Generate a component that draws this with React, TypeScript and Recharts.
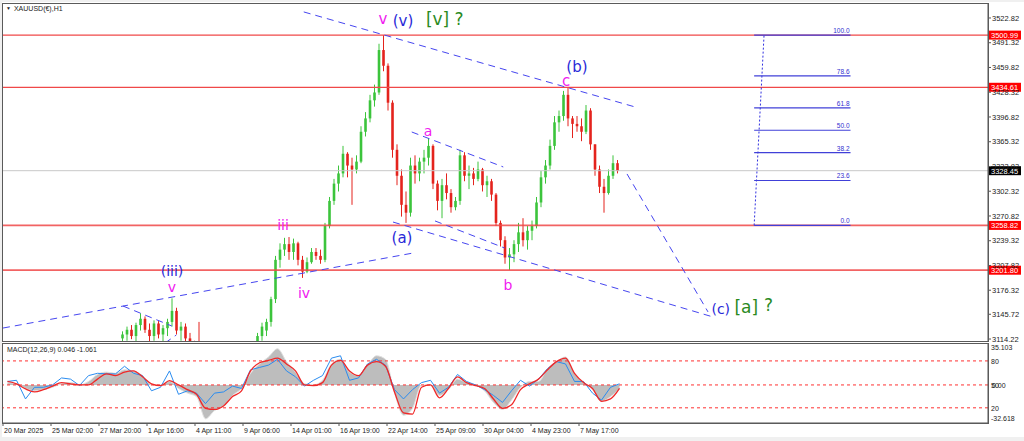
import React from 'react';
import { ComposedChart, Bar, Line, Area, XAxis, YAxis, ReferenceLine, ReferenceDot } from 'recharts';

const FONT = '"Liberation Sans", Arial, sans-serif';
const WAVE_FONT = '"DejaVu Sans", Verdana, sans-serif';
const UP = '#3cc43c';
const DOWN = '#e4231d';
const TREND = '#4646f0';

// x axis is in H1 bar index, y axis in price
const X_MAX = 1313.3;
const Y_MIN = 3111.7;
const Y_MAX = 3540.6;
const GROUP = 6; // H1 bars per drawn candle

const priceTicks = [3522.82, 3491.32, 3459.82, 3428.32, 3396.82, 3365.32, 3333.82, 3302.32, 3270.82, 3239.32, 3207.82, 3176.32, 3145.72, 3114.22];
const timeTicks = [0, 64, 128, 192, 256, 320, 384, 448, 512, 576, 640, 704, 768];
const timeLabels = ['20 Mar 2025', '25 Mar 02:00', '27 Mar 20:00', '1 Apr 16:00', '4 Apr 11:00', '9 Apr 06:00', '14 Apr 01:00', '16 Apr 19:00', '22 Apr 14:00', '25 Apr 09:00', '30 Apr 04:00', '4 May 23:00', '7 May 17:00'];

// [open, high, low, close]
const marchStart = 26;
const marchOhlc = [
  [3115, 3124, 3105, 3120], [3120, 3130, 3112, 3126], [3126, 3132, 3114, 3118], [3118, 3135, 3110, 3132],
  [3132, 3147, 3125, 3140], [3140, 3143, 3122, 3126], [3126, 3134, 3110, 3118], [3118, 3138, 3112, 3134],
  [3134, 3137, 3115, 3120], [3120, 3132, 3108, 3128], [3128, 3140, 3118, 3136], [3136, 3166, 3130, 3150],
  [3150, 3154, 3120, 3125], [3125, 3136, 3112, 3130], [3130, 3134, 3110, 3115], [3115, 3122, 3100, 3108],
  [3108, 3112, 3095, 3100], [3100, 3136, 3090, 3096],
];
const aprilStart = 56;
const aprilOhlc = [
  [3108, 3122, 3100, 3118], [3118, 3135, 3112, 3130], [3125, 3140, 3118, 3136], [3136, 3168, 3130, 3165],
  [3165, 3220, 3160, 3215], [3215, 3236, 3205, 3228], [3228, 3243, 3220, 3235], [3235, 3244, 3215, 3225],
  [3225, 3242, 3215, 3236], [3236, 3238, 3208, 3215], [3215, 3220, 3192, 3200], [3200, 3218, 3198, 3212],
  [3212, 3230, 3210, 3225], [3225, 3230, 3215, 3220], [3220, 3228, 3210, 3215], [3215, 3262, 3212, 3258],
  [3258, 3295, 3255, 3290], [3290, 3318, 3285, 3312], [3312, 3335, 3302, 3325], [3325, 3360, 3320, 3350],
  [3350, 3352, 3320, 3335], [3335, 3345, 3285, 3330], [3330, 3348, 3325, 3340], [3340, 3385, 3338, 3378],
  [3378, 3403, 3372, 3395], [3395, 3425, 3390, 3418], [3418, 3438, 3410, 3428], [3428, 3490, 3425, 3482],
  [3482, 3501, 3455, 3462], [3462, 3465, 3405, 3415], [3415, 3418, 3345, 3355], [3355, 3362, 3310, 3322],
  [3322, 3330, 3270, 3285], [3285, 3302, 3262, 3275], [3275, 3345, 3270, 3335], [3335, 3348, 3312, 3325],
  [3325, 3345, 3315, 3340], [3340, 3355, 3325, 3345], [3345, 3370, 3335, 3360], [3360, 3362, 3305, 3312],
  [3312, 3316, 3278, 3290], [3290, 3318, 3268, 3310], [3310, 3325, 3292, 3300], [3300, 3305, 3275, 3282],
  [3282, 3295, 3278, 3290], [3290, 3355, 3285, 3348], [3348, 3352, 3315, 3322], [3322, 3335, 3305, 3325],
  [3325, 3332, 3310, 3318], [3318, 3340, 3315, 3330], [3330, 3332, 3302, 3310], [3310, 3322, 3295, 3315],
  [3315, 3318, 3290, 3298], [3298, 3300, 3258, 3262], [3262, 3265, 3232, 3240], [3240, 3245, 3210, 3218],
  [3218, 3230, 3202, 3222], [3222, 3240, 3212, 3235], [3235, 3262, 3225, 3250], [3250, 3268, 3232, 3240],
  [3240, 3258, 3228, 3252], [3252, 3265, 3240, 3258], [3258, 3295, 3255, 3288], [3288, 3328, 3282, 3320],
  [3320, 3342, 3312, 3335], [3335, 3368, 3330, 3360], [3360, 3398, 3355, 3390], [3390, 3405, 3378, 3398],
  [3398, 3430, 3392, 3425], [3425, 3435, 3385, 3395], [3395, 3398, 3370, 3388], [3388, 3398, 3378, 3385],
  [3385, 3395, 3366, 3378], [3378, 3412, 3375, 3405], [3405, 3408, 3355, 3362], [3362, 3362, 3322, 3330],
  [3330, 3335, 3300, 3308], [3308, 3318, 3275, 3300], [3300, 3330, 3298, 3322], [3322, 3348, 3318, 3338],
  [3338, 3342, 3325, 3328],
];

// MACD panel, one point per 12 H1 bars
const macdStep = 12;
const macdMain = [3, 4, -12, -2, -2, 0, 6, 5, -0.5, 8, 10, 9.5, 9.5, 16, 10, 8, -5, -2, 12, -8, -5, -7, -16, -7, -6, -1, -3, 13, 15, 17, 22, 12, 7, -1, 4, 8, 23, 25, 4, 6, 18, 22, 17, -4, -12, -4, 2, 4, -7, -2, 9, 3, 0, -4, -9, -15, -5, 4, -1, 5, 14, 20, 18, 3, 3, -7, -13, -2, 1];
const macdSignal = [3, 1, -3.4, -6, -4, -1, 2, 1, 0, 0, 5, 9.5, 8, 11, 12, 7, 1, -0.6, 3.7, 0, -4, -8, -20, -21, -18, -10, -5, 12, 19, 21, 23, 18, 12, 0, -0.6, 2, 17, 21, 12, 8, 17, 20, 16, -6, -24, -25, -2, 0, -11, -3, 7, 2, -0.6, -3, -12, -20, -17, -4, 1, 5, 13, 20, 23, 10, 2, -3, -14, -12, -3];
const macdHist = [2, 1, -3, -5, -4, -2, 1, 2, 0, 3, 9, 11, 10, 13, 12, 8, 0, 0, 3, -3, -7, -10, -29, -22, -18, -9, -3, 10, 18, 24, 31, 20, 11, 1, 0, 4, 18, 22, 11, 8, 17, 25, 22, -7, -26, -20, 0, 0, -9, -4, 5, 2, 0, -5, -15, -21, -13, -2, 3, 3, 14, 20, 24, 10, 2, -4, -14, -10, -3];
const MACD_MIN = -32.618;
const MACD_MAX = 35.103;
const macdLevels = [{ v: 20.6, t: '80' }, { v: 0, t: '50' }, { v: -19.6, t: '20' }];

const redLevels = [3500.99, 3434.61, 3258.82, 3201.8];
const lastPrice = 3328.45;

// dashed trend lines: [bar1, price1, bar2, price2]
const trendLines = [
  [401, 3530.5, 843, 3409.5],
  [0, 3128.2, 547, 3223.7],
  [160, 3156.2, 225, 3130.8],
  [216, 3109.1, 231, 3119.3],
  [545, 3377.7, 667, 3333.2],
  [520, 3263.1, 947, 3142.2],
  [576, 3264.5, 669, 3230.0],
  [832, 3324.3, 940, 3148.7],
];

const fibLow = 3258.82;
const fibHigh = 3500.99;
const fibLevels = [0, 23.6, 38.2, 50, 61.8, 78.6, 100];
const fibFromBar = 1001.5;
const fibToBar = 1130;
const fibTopBar = 1014.7;

// wave labels: [bar, price, text, color, size]
const MAG = '#f020f0';
const BLU = '#2a2ad8';
const GRN = '#2a8a1e';
const waveLabels: [number, number, string, string, number][] = [
  [506.7, 3522, 'v', MAG, 15],
  [533.3, 3519, '(v)', BLU, 15],
  [589, 3521, '[v] ?', GRN, 17],
  [765.3, 3460.4, '(b)', BLU, 15],
  [750.7, 3442.6, 'c', MAG, 15],
  [566.7, 3379, 'a', MAG, 14],
  [532, 3242.8, '(a)', BLU, 15],
  [673.3, 3182.9, 'b', MAG, 14],
  [373.3, 3259.3, 'iii', MAG, 14],
  [401.3, 3172.8, 'iv', MAG, 14],
  [225.3, 3200.8, '(iii)', BLU, 14],
  [225.3, 3180.4, 'v', MAG, 14],
  [957, 3152.4, '(c)', BLU, 14],
  [991, 3154.9, '[a]', GRN, 17],
  [1020.5, 3157.5, '?', GRN, 17],
];

const candles = [
  ...marchOhlc.map((v, k) => ({ b: (marchStart + k) * GROUP + GROUP / 2, o: v[0], h: v[1], l: v[2], c: v[3], range: [v[2], v[1]] })),
  ...aprilOhlc.map((v, k) => ({ b: (aprilStart + k) * GROUP + GROUP / 2, o: v[0], h: v[1], l: v[2], c: v[3], range: [v[2], v[1]] })),
];

const macdData = macdMain.map((v, j) => ({ b: j * macdStep + macdStep / 2, main: v, signal: macdSignal[j], hist: macdHist[j] }));

function Candle(props: any) {
  const { x, y, width, height, payload } = props;
  if (x == null || y == null || !payload) return null;
  const { o, h, l, c } = payload;
  const top = Math.min(y, y + height);
  const span = Math.abs(height);
  const k = h > l ? span / (h - l) : 0;
  const yO = top + (h - o) * k;
  const yC = top + (h - c) * k;
  const cx = x + width / 2;
  const color = c >= o ? UP : DOWN;
  return (
    <g>
      <line x1={cx} x2={cx} y1={top} y2={top + span} stroke={color} strokeWidth={1} />
      <rect x={cx - 1.3} y={Math.min(yO, yC)} width={2.6} height={Math.max(1, Math.abs(yC - yO))} fill={color} />
    </g>
  );
}

function PriceTag(props: any) {
  const { viewBox, text, bg } = props;
  if (!viewBox) return null;
  const x = viewBox.x + viewBox.width + 1;
  const y = viewBox.y;
  return (
    <g>
      <rect x={x} y={y - 4.5} width={32} height={9} fill={bg} />
      <text x={x + 2} y={y + 3} fill="#fff" fontSize={7.5} fontFamily={FONT}>{text}</text>
    </g>
  );
}

function WaveText(props: any) {
  const { viewBox, text, color, size } = props;
  if (!viewBox) return null;
  return (
    <text x={viewBox.x + viewBox.width / 2} y={viewBox.y + viewBox.height / 2} fill={color} fontSize={size}
      textAnchor="middle" dominantBaseline="central" fontFamily={WAVE_FONT}>{text}</text>
  );
}

function FibText(props: any) {
  const { viewBox, text } = props;
  if (!viewBox) return null;
  return (
    <text x={viewBox.x - 1} y={viewBox.y - 2} fill="#3030d0" fontSize={6.5} textAnchor="end" fontFamily={FONT}>{text}</text>
  );
}

function TimeTick(props: any) {
  const { x, y, payload } = props;
  const i = timeTicks.indexOf(payload.value);
  return <text x={x + 1} y={y + 6} fontSize={7} fill="#222" fontFamily={FONT}>{timeLabels[i]}</text>;
}

function MacdTick(props: any) {
  const { x, y, payload } = props;
  const v = payload.value;
  if (v === MACD_MAX) return <text x={x} y={y + 6} fontSize={7} fill="#222" fontFamily={FONT}>35.103</text>;
  if (v === MACD_MIN) return <text x={x} y={y - 2} fontSize={7} fill="#222" fontFamily={FONT}>-32.618</text>;
  const lv = macdLevels.find((m) => m.v === v);
  return (
    <g>
      {v === 0 && <text x={x + 1} y={y + 3} fontSize={7} fill="#222" fontFamily={FONT}>0.00</text>}
      <text x={x} y={y + 3} fontSize={7} fill="#222" fontFamily={FONT}>{lv ? lv.t : ''}</text>
    </g>
  );
}

export default function App() {
  return (
    <div style={{ position: 'fixed', left: 0, top: 0, width: 1024, height: 441, background: '#f0f0f0', overflow: 'hidden' }}>
      <div style={{ position: 'absolute', left: 2, top: 2, width: 1022, height: 435, background: '#fff' }} />

      <div style={{ position: 'absolute', left: 0, top: 0 }}>
        <ComposedChart width={1024} height={345} data={candles} margin={{ top: 4, right: 0, bottom: 4, left: 3 }}>
          <XAxis dataKey="b" type="number" domain={[0, X_MAX]} allowDataOverflow hide />
          <YAxis orientation="right" width={36} domain={[Y_MIN, Y_MAX]} allowDataOverflow ticks={priceTicks} interval={0}
            tickFormatter={(v: number) => v.toFixed(2)} tickSize={3} tickMargin={1}
            tick={{ fontSize: 7.5, fill: '#222', fontFamily: FONT }} axisLine={{ stroke: '#555' }} tickLine={{ stroke: '#555' }} />
          {redLevels.map((p, i) => (
            <ReferenceLine key={'r' + i} y={p} stroke="#f04848" strokeWidth={i > 1 ? 1.8 : 1.2} strokeOpacity={i > 1 ? 0.85 : 1}
              label={<PriceTag text={p.toFixed(2)} bg="#ff0000" />} />
          ))}
          <ReferenceLine y={lastPrice} stroke="#c8c8c8" label={<PriceTag text={lastPrice.toFixed(2)} bg="#000" />} />
          <Bar dataKey="range" barSize={3} shape={Candle} isAnimationActive={false} />
          {trendLines.map((t, i) => (
            <ReferenceLine key={'t' + i} segment={[{ x: t[0], y: t[1] }, { x: t[2], y: t[3] }]} stroke={TREND}
              strokeDasharray="7 5" strokeWidth={1} ifOverflow="hidden" />
          ))}
          <ReferenceLine segment={[{ x: fibFromBar, y: fibLow }, { x: fibTopBar, y: fibHigh }]} stroke="#3030e0" strokeDasharray="2 2" ifOverflow="visible" />
          {fibLevels.map((f) => {
            const p = fibLow + (fibHigh - fibLow) * f / 100;
            return (
              <ReferenceLine key={'f' + f} segment={[{ x: fibFromBar, y: p }, { x: fibToBar, y: p }]} stroke="#4040d8" strokeWidth={1.2} ifOverflow="visible" />
            );
          })}
          {fibLevels.map((f) => (
            <ReferenceDot key={'fl' + f} x={fibToBar} y={fibLow + (fibHigh - fibLow) * f / 100} r={0} stroke="none" fill="none"
              label={<FibText text={f.toFixed(1)} />} />
          ))}
          {waveLabels.map((w, i) => (
            <ReferenceDot key={'w' + i} x={w[0]} y={w[1]} r={0} stroke="none" fill="none"
              label={<WaveText text={w[2]} color={w[3]} size={w[4]} />} />
          ))}
        </ComposedChart>
      </div>

      <div style={{ position: 'absolute', left: 0, top: 340 }}>
        <ComposedChart width={1024} height={100} data={macdData} margin={{ top: 4, right: 0, bottom: 0, left: 3 }}>
          <XAxis dataKey="b" type="number" domain={[0, X_MAX]} allowDataOverflow ticks={timeTicks} interval={0} height={17}
            tickSize={3} tickMargin={1} tick={<TimeTick />} axisLine={{ stroke: '#555' }} tickLine={{ stroke: '#555' }} />
          <YAxis orientation="right" width={36} domain={[MACD_MIN, MACD_MAX]} allowDataOverflow
            ticks={[MACD_MAX, macdLevels[0].v, 0, macdLevels[2].v, MACD_MIN]} interval={0} tickSize={2} tickMargin={1}
            tick={<MacdTick />} axisLine={{ stroke: '#555' }} tickLine={false} />
          <Area dataKey="hist" type="monotone" fill="#bdbdbd" fillOpacity={1} stroke="#e0e0e0" strokeWidth={1} isAnimationActive={false} />
          {macdLevels.map((m) => (
            <ReferenceLine key={m.t} y={m.v} stroke="#ff3030" strokeDasharray="3 3" strokeWidth={1} />
          ))}
          <Line dataKey="main" type="linear" stroke="#2a8cf0" strokeWidth={1} dot={false} isAnimationActive={false} />
          <Line dataKey="signal" type="monotone" stroke="#f02828" strokeWidth={1.3} dot={false} isAnimationActive={false} />
        </ComposedChart>
      </div>

      <div style={{ position: 'absolute', left: 2, top: 3, width: 985, height: 337, border: '1px solid #5a5a5a', pointerEvents: 'none' }} />
      <div style={{ position: 'absolute', left: 2, top: 343, width: 985, height: 79, border: '1px solid #5a5a5a', pointerEvents: 'none' }} />

      <div style={{ position: 'absolute', left: 6, top: 5, fontSize: 7, fontFamily: FONT, color: '#222', whiteSpace: 'nowrap' }}>
        <span style={{ fontSize: 5, marginRight: 3, verticalAlign: 1 }}>▼</span>XAUUSD(€),H1
      </div>
      <div style={{ position: 'absolute', left: 7, top: 346, fontSize: 7, fontFamily: FONT, color: '#222', whiteSpace: 'nowrap' }}>
        MACD(12,26,9) 0.046 -1.061
      </div>
    </div>
  );
}
